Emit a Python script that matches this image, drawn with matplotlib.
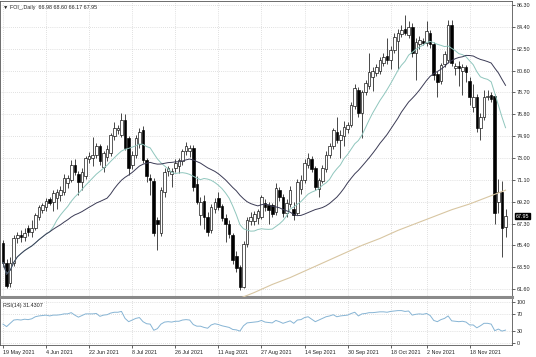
import numpy as np
import pandas as pd
import matplotlib
matplotlib.use('Agg')
import matplotlib.pyplot as plt
import matplotlib.transforms as mtransforms

plt.rcParams['font.family'] = ['Liberation Sans', 'DejaVu Sans']

# Daily candles (19 May 2021 -> 1 Dec 2021)
opens = [65.6, 63.9, 62.1, 63.9, 66.0, 66.3, 66.1, 66.9, 66.6, 66.9,
         67.9, 68.5, 68.7, 69.4, 69.2, 69.5, 69.8, 70.0, 70.8, 71.1,
         72.4, 71.6, 70.9, 71.4, 72.9, 73.0, 73.3, 74.0, 72.2, 73.1,
         73.4, 74.9, 75.4, 75.0, 76.3, 74.7, 72.4, 73.3, 74.2, 75.4,
         72.8, 71.3, 71.0, 67.6, 66.5, 70.0, 71.9, 71.6, 72.1, 72.3,
         72.7, 73.6, 73.6, 73.9, 70.7, 68.0, 69.3, 67.9, 66.7, 68.6,
         69.5, 68.8, 67.8, 67.3, 66.3, 64.5, 63.5, 61.8, 65.5, 67.5,
         67.5, 67.8, 67.9, 69.1, 68.9, 68.9, 68.3, 70.2, 69.6, 68.2,
         69.0, 68.6, 68.2, 70.3, 71.1, 72.4, 72.9, 72.1, 70.3, 71.0,
         72.0, 73.3, 74.0, 75.3, 74.6, 74.9, 75.5, 75.9, 77.5, 78.9,
         76.9, 78.7, 79.3, 80.0, 80.4, 80.6, 81.3, 81.9, 81.5, 82.4,
         83.2, 83.8, 84.2, 83.7, 84.4, 82.1, 82.9, 83.2, 83.0, 83.9,
         82.9, 80.3, 79.7, 81.2, 81.5, 84.6, 80.8, 81.0, 80.6, 80.9,
         79.7, 77.4, 78.3, 75.6, 76.6, 78.3, 78.5, 78.4, 69.2, 70.0,
         66.98]
highs = [65.9, 64.2, 64.4, 66.3, 66.6, 66.7, 66.9, 67.2, 67.6, 68.2,
         68.9, 69.1, 69.5, 69.6, 70.2, 70.3, 70.6, 71.6, 71.5, 72.8,
         72.9, 71.9, 72.1, 73.2, 73.5, 74.8, 74.3, 74.2, 73.6, 74.1,
         75.2, 76.1, 75.9, 76.9, 76.8, 74.9, 73.6, 75.0, 75.6, 75.8,
         73.0, 71.6, 71.3, 67.9, 70.5, 72.1, 72.3, 72.1, 72.9, 73.0,
         73.8, 74.4, 74.1, 74.1, 71.4, 69.6, 69.8, 68.3, 69.0, 69.5,
         70.0, 69.0, 68.1, 67.6, 66.5, 64.9, 63.7, 65.8, 67.9, 68.3,
         68.4, 68.6, 69.8, 69.4, 69.2, 69.1, 70.8, 70.5, 69.9, 69.4,
         70.6, 69.2, 71.2, 71.5, 72.9, 73.4, 73.2, 72.3, 71.3, 72.4,
         73.6, 74.3, 75.6, 76.6, 75.4, 76.2, 76.1, 77.9, 79.4, 79.2,
         78.9, 79.8, 82.1, 80.9, 81.2, 81.8, 82.1, 83.4, 82.7, 83.9,
         84.2, 84.6, 85.4, 84.9, 84.7, 83.4, 83.6, 83.4, 84.9, 84.1,
         83.1, 80.6, 81.3, 82.3, 85.0, 85.0, 81.3, 81.4, 81.2, 81.1,
         80.0, 79.4, 78.6, 76.9, 78.9, 78.9, 78.7, 78.6, 71.2, 71.0,
         68.60]
lows = [63.5, 61.7, 61.8, 63.6, 65.6, 65.7, 65.8, 66.2, 66.1, 66.7,
        67.6, 68.2, 68.4, 68.9, 68.4, 68.6, 69.3, 69.8, 70.4, 70.9,
        71.5, 69.8, 70.2, 71.2, 72.6, 72.3, 73.0, 72.4, 71.8, 72.7,
        73.2, 74.6, 75.1, 74.8, 73.7, 71.5, 72.0, 73.0, 73.9, 72.6,
        70.9, 69.8, 66.2, 65.0, 66.2, 69.6, 71.4, 70.5, 71.8, 71.7,
        72.4, 73.3, 73.1, 70.1, 69.0, 67.2, 66.8, 66.2, 66.5, 68.2,
        68.5, 67.5, 65.7, 66.0, 63.8, 63.1, 61.5, 61.7, 65.3, 67.2,
        67.2, 67.3, 67.7, 68.4, 67.3, 67.9, 68.0, 69.3, 67.9, 67.9,
        68.7, 67.6, 68.0, 69.9, 70.8, 72.1, 71.8, 70.2, 69.6, 70.8,
        71.8, 73.0, 73.8, 74.3, 73.0, 74.0, 75.2, 75.7, 77.3, 76.6,
        74.7, 78.5, 79.0, 78.8, 80.1, 80.3, 81.0, 81.2, 80.7, 82.1,
        80.7, 83.5, 83.7, 83.4, 81.8, 79.8, 82.5, 82.8, 82.7, 82.6,
        79.8, 78.3, 79.4, 80.9, 81.3, 81.0, 80.2, 79.3, 78.5, 79.6,
        77.6, 77.0, 75.3, 74.6, 76.3, 78.0, 77.9, 67.3, 68.2, 64.4,
        66.17]
closes = [63.9, 61.9, 63.9, 66.0, 66.3, 66.1, 66.5, 66.6, 66.9, 68.0,
          68.7, 68.9, 69.3, 69.1, 69.95, 70.0, 70.2, 71.3, 71.3, 72.4,
          71.8, 70.9, 71.8, 73.0, 73.2, 73.3, 74.0, 72.7, 73.4, 73.8,
          75.0, 75.6, 75.6, 76.3, 73.9, 72.1, 73.3, 74.7, 75.3, 72.8,
          71.4, 71.1, 66.5, 67.3, 70.2, 71.8, 72.1, 71.9, 72.6, 72.8,
          73.6, 74.0, 73.9, 70.5, 69.2, 69.2, 67.9, 66.6, 68.7, 69.2,
          68.7, 67.8, 67.3, 66.4, 64.1, 63.4, 61.8, 65.5, 67.6, 67.9,
          68.1, 68.4, 69.6, 68.7, 68.5, 68.1, 70.4, 69.6, 68.2, 69.1,
          70.2, 68.0, 70.9, 71.1, 72.6, 73.0, 72.0, 70.5, 71.1, 72.1,
          73.3, 74.0, 75.4, 74.6, 75.0, 75.7, 75.9, 77.6, 79.1, 76.9,
          78.7, 79.5, 80.5, 80.6, 80.9, 81.5, 81.8, 81.5, 82.4, 83.5,
          83.9, 84.1, 83.9, 84.4, 82.1, 83.1, 83.3, 83.0, 84.0, 82.9,
          80.2, 79.6, 81.1, 82.0, 84.6, 81.3, 81.0, 80.8, 80.9, 80.5,
          78.3, 78.3, 75.6, 76.6, 78.3, 78.4, 78.1, 68.2, 70.0, 66.9,
          67.95]

# RSI(14) per bar, read from the lower window
rsi = [46, 40, 48, 56, 57, 56, 58, 57, 59, 64,
       66, 67, 68, 66, 68, 68, 69, 71, 71, 74,
       68, 63, 67, 71, 71, 71, 72, 65, 68, 69,
       73, 75, 75, 77, 60, 52, 56, 60, 62, 52,
       47, 46, 31, 35, 46, 51, 52, 51, 53, 53,
       56, 57, 56, 45, 41, 41, 38, 36, 44, 47,
       45, 42, 40, 38, 33, 32, 29, 42, 49, 50,
       51, 52, 55, 51, 50, 49, 55, 52, 48, 51,
       54, 48, 56, 57, 62, 64, 58, 52, 56, 60,
       64, 66, 69, 64, 66, 67, 68, 72, 75, 66,
       71, 72, 74, 74, 75, 76, 76, 75, 77, 78,
       79, 79, 77, 78, 68, 70, 71, 70, 72, 67,
       55, 52, 57, 60, 66, 54, 53, 52, 53, 51,
       44, 44, 37, 42, 48, 48, 46, 30, 34, 29,
       31.43]

# long moving average (tan line), only the visible part
ma200_bars = [66, 70, 75, 80, 85, 90, 95, 100, 105, 110, 115, 120, 125, 130, 135, 140]
ma200_vals = [60.8, 61.3, 62.0, 62.6, 63.3, 64.0, 64.7, 65.4, 66.0, 66.7, 67.3, 67.9, 68.5, 69.0, 69.6, 70.2]

price_ticks = [86.30, 84.40, 82.50, 80.60, 78.70, 76.80, 74.90, 73.00,
               71.10, 69.20, 67.30, 65.40, 63.50, 61.60]
rsi_ticks = [100, 70, 30, 0]
label_dates = ['2021-05-19', '2021-06-04', '2021-06-22', '2021-07-08', '2021-07-26',
               '2021-08-11', '2021-08-27', '2021-09-14', '2021-09-30', '2021-10-18',
               '2021-11-02', '2021-11-18']

# trading days (one day missing in late october on this feed)
dates = pd.bdate_range('2021-05-19', periods=len(closes) + 1)
dates = dates.drop(pd.Timestamp('2021-10-25'))

df = pd.DataFrame({'open': opens, 'high': highs, 'low': lows, 'close': closes}, index=dates)
df['ma_fast'] = df['close'].rolling(14, min_periods=1).mean()
df['ma_slow'] = df['close'].rolling(30, min_periods=1).mean()

idx = np.arange(len(df))
tick_idx = [dates.get_loc(pd.Timestamp(d)) for d in label_dates]
tick_lbl = [f"{pd.Timestamp(d).day} {pd.Timestamp(d):%b %Y}" for d in label_dates]

fig = plt.figure(figsize=(5.36, 3.57), dpi=100)
W, H = 536, 357
ax = fig.add_axes([0, 1 - 297 / H, 512 / W, 296 / H])
ax_rsi = fig.add_axes([0, 1 - 345 / H, 512 / W, 46 / H], sharex=ax)

grid_kw = dict(color='#c4c4c4', linestyle=(0, (1, 2)), linewidth=0.5)
fs = 3.9

# --- price window ---
up = df['close'] >= df['open']
ax.vlines(idx, df['low'], df['high'], color='black', linewidth=0.5, zorder=2)
body_low = np.minimum(df['open'], df['close'])
body_h = np.maximum(np.abs(df['close'] - df['open']), 0.06)
ax.bar(idx, body_h, bottom=body_low, width=0.72,
       color=np.where(up, 'white', 'black'), edgecolor='black', linewidth=0.45, zorder=3)

ax.plot(idx, df['ma_fast'], color='#8fc6bd', linewidth=0.7, zorder=4)
ax.plot(idx, df['ma_slow'], color='#3b3b55', linewidth=0.7, zorder=4)
ax.plot(ma200_bars, ma200_vals, color='#d8c6a2', linewidth=0.8, zorder=4)

ax.set_xlim(-0.84, 141.8)
ax.set_ylim(60.91, 86.65)
ax.yaxis.tick_right()
ax.set_yticks(price_ticks)
ax.set_yticklabels([f"{p:.2f}" for p in price_ticks])
ax.tick_params(axis='y', labelsize=fs, length=2, width=0.5, pad=1.5, colors='#222222')
ax.set_xticks(tick_idx)
ax.tick_params(axis='x', length=0, labelbottom=False)
ax.grid(True, **grid_kw)
ax.set_axisbelow(True)
for s in ['top', 'left', 'right']:
    ax.spines[s].set_color('#555555')
    ax.spines[s].set_linewidth(0.6)
ax.spines['bottom'].set_color('#8a8a8a')
ax.spines['bottom'].set_linewidth(2.2)

last = df.iloc[-1]
ax.text(0.006, 0.979, "\u25bc FOI_,Daily  %.2f %.2f %.2f %.2f" % (last['open'], last['high'], last['low'], last['close']),
        transform=ax.transAxes, fontsize=fs, va='center', ha='left', color='#222222')

# current price marker on the right scale
trans = mtransforms.blended_transform_factory(ax.transAxes, ax.transData)
ax.text(1.008, last['close'], "%.2f" % last['close'], transform=trans, fontsize=fs, color='white',
        va='center', ha='left', bbox=dict(boxstyle='square,pad=0.15', fc='black', ec='black'), clip_on=False)

# --- RSI window ---
ax_rsi.plot(idx, rsi, color='#86b4d4', linewidth=0.7)
ax_rsi.set_ylim(-4.9, 107.3)
ax_rsi.yaxis.tick_right()
ax_rsi.set_yticks(rsi_ticks)
ax_rsi.set_yticklabels([str(v) for v in rsi_ticks])
ax_rsi.tick_params(axis='y', labelsize=fs, length=2, width=0.5, pad=1.5, colors='#222222')
ax_rsi.set_xticks(tick_idx)
ax_rsi.set_xticklabels(tick_lbl)
for lbl in ax_rsi.get_xticklabels():
    lbl.set_ha('left')
ax_rsi.tick_params(axis='x', labelsize=fs, length=2, width=0.5, pad=1.5, colors='#222222')
ax_rsi.grid(True, **grid_kw)
for s in ['bottom', 'left', 'right']:
    ax_rsi.spines[s].set_color('#555555')
    ax_rsi.spines[s].set_linewidth(0.6)
ax_rsi.spines['top'].set_visible(False)
ax_rsi.text(0.006, 0.86, "RSI(14) 31.4307", transform=ax_rsi.transAxes, fontsize=fs,
            va='center', ha='left', color='#222222')

plt.savefig('out.png', dpi=100)
